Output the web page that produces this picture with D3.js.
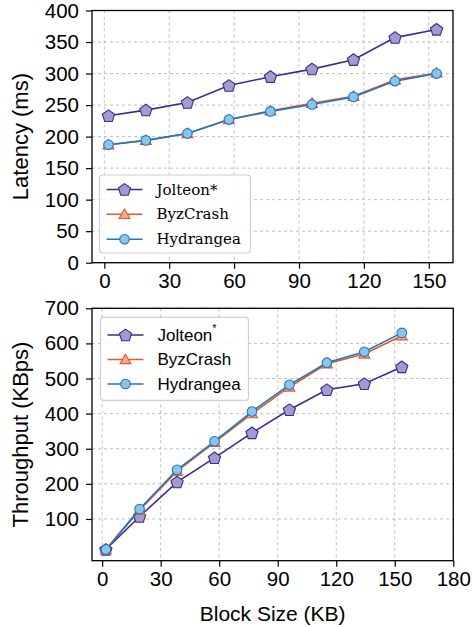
<!DOCTYPE html>
<html><head><meta charset="utf-8">
<script src="https://cdn.jsdelivr.net/npm/d3@7"></script>
<style>body{margin:0;background:#fff}svg{display:block}</style>
</head><body>
<svg id="c" width="474" height="627"></svg>
<script>
const blockSizes = [1.92, 19.2, 38.4, 57.6, 76.8, 96, 115.2, 134.4, 153.6];
const latJolteon = [233, 242, 254, 281, 295, 307, 322, 357, 370];
const latByzCrash = [187, 194, 205, 227, 241, 253, 264, 290, 301];
const latHydrangea = [187, 194, 205, 227, 240, 251, 263, 288, 300];
const thrJolteon = [13, 107, 205, 274, 345, 411, 468, 485, 533];
const thrByzCrash = [12, 125, 236, 318, 400, 476, 542, 570, 622];
const thrHydrangea = [13, 128, 240, 321, 406, 482, 545, 576, 630];
const topXTicks = [0, 30, 60, 90, 120, 150];
const topYTicks = [0, 50, 100, 150, 200, 250, 300, 350, 400];
const botXTicks = [0, 30, 60, 90, 120, 150, 180];
const botYTicks = [100, 200, 300, 400, 500, 600, 700];
const seriesNames = ["Jolteon", "ByzCrash", "Hydrangea"];

const styles = {
  Jolteon: {line: "#3d2b8c", fill: "#a39bcf", shape: "pentagon"},
  ByzCrash: {line: "#e55a2b", fill: "#f5a98a", shape: "triangle"},
  Hydrangea: {line: "#1c78c0", fill: "#8fc4ea", shape: "circle"}
};

const svg = d3.select("#c");
const SANS = "'Liberation Sans', Arial, Helvetica, sans-serif";

function markerPath(shape) {
  if (shape === "circle") return d3.symbol(d3.symbolCircle, Math.PI * 4.8 * 4.8)();
  if (shape === "triangle") {
    const r = 6.3;
    const pts = [0, 1, 2].map(i => { const a = -Math.PI / 2 + i * 2 * Math.PI / 3; return [r * Math.cos(a), r * Math.sin(a) + 1]; });
    return "M" + pts.map(p => p.join(",")).join("L") + "Z";
  }
  const r = 6.4;
  const pts = [0, 1, 2, 3, 4].map(i => { const a = -Math.PI / 2 + i * 2 * Math.PI / 5; return [r * Math.cos(a), r * Math.sin(a) + 0.5]; });
  return "M" + pts.map(p => p.join(",")).join("L") + "Z";
}

function panel(cfg) {
  const {x0, x1, y0, y1, xDomain, yDomain, xTicks, yTicks, data, ylabel, xlabel, legend} = cfg;
  const x = d3.scaleLinear().domain(xDomain).range([x0, x1]);
  const y = d3.scaleLinear().domain(yDomain).range([y1, y0]);
  const g = svg.append("g");
  g.append("g").selectAll("line").data(xTicks).join("line")
    .attr("x1", d => x(d)).attr("x2", d => x(d)).attr("y1", y0).attr("y2", y1)
    .attr("stroke", "#b0b0b0").attr("stroke-width", 0.8).attr("stroke-dasharray", "3,3");
  g.append("g").selectAll("line").data(yTicks).join("line")
    .attr("x1", x0).attr("x2", x1).attr("y1", d => y(d)).attr("y2", d => y(d))
    .attr("stroke", "#b0b0b0").attr("stroke-width", 0.8).attr("stroke-dasharray", "3,3");
  const ax = g.append("g").attr("transform", `translate(0,${y1})`)
    .call(d3.axisBottom(x).tickValues(xTicks).tickSize(6).tickPadding(5).tickFormat(d3.format("d")));
  const ay = g.append("g").attr("transform", `translate(${x0},0)`)
    .call(d3.axisLeft(y).tickValues(yTicks).tickSize(6).tickPadding(7).tickFormat(d3.format("d")));
  [ax, ay].forEach(a => {
    a.select(".domain").remove();
    a.selectAll(".tick line").attr("stroke", "#000").attr("stroke-width", 1.2);
    a.selectAll(".tick text").attr("font-family", SANS).attr("font-size", 20.5).attr("fill", "#000");
  });
  const line = d3.line().x((d, i) => x(blockSizes[i])).y(d => y(d));
  data.forEach((vals, k) => {
    const st = styles[seriesNames[k]];
    g.append("path").attr("d", line(vals)).attr("fill", "none")
      .attr("stroke", st.line).attr("stroke-width", 1.6);
    g.append("g").selectAll("path").data(vals).join("path")
      .attr("transform", (d, i) => `translate(${x(blockSizes[i])},${y(d)})`)
      .attr("d", markerPath(st.shape)).attr("fill", st.fill).attr("stroke", st.line).attr("stroke-width", 1.1);
  });
  g.append("rect").attr("x", x0).attr("y", y0).attr("width", x1 - x0).attr("height", y1 - y0)
    .attr("fill", "none").attr("stroke", "#000").attr("stroke-width", 1.3);
  g.append("text").attr("transform", `translate(20,${(y0 + y1) / 2}) rotate(-90)`)
    .attr("text-anchor", "middle").attr("dominant-baseline", "central")
    .attr("font-family", SANS).attr("font-size", 22).text(ylabel);
  if (xlabel) g.append("text").attr("x", (x0 + x1) / 2).attr("y", 613)
    .attr("text-anchor", "middle").attr("dominant-baseline", "central")
    .attr("font-family", SANS).attr("font-size", 21).text(xlabel);
  const L = legend;
  const lg = g.append("g");
  lg.append("rect").attr("x", L.x).attr("y", L.y).attr("width", L.w).attr("height", L.h)
    .attr("rx", 3).attr("fill", "#fff").attr("fill-opacity", 0.85).attr("stroke", "#d0d0d0").attr("stroke-width", 1.2);
  seriesNames.forEach((name, k) => {
    const st = styles[name];
    const ry = L.rows[k];
    lg.append("line").attr("x1", L.x + 7).attr("x2", L.x + 43).attr("y1", ry).attr("y2", ry)
      .attr("stroke", st.line).attr("stroke-width", 1.6);
    lg.append("path").attr("transform", `translate(${L.x + 25},${ry})`).attr("d", markerPath(st.shape))
      .attr("fill", st.fill).attr("stroke", st.line).attr("stroke-width", 1.1);
    const t = lg.append("text").attr("x", L.x + 57).attr("y", ry).attr("dominant-baseline", "central")
      .attr("font-family", L.font).attr("font-size", L.size).attr("fill", "#000");
    if (name === "Jolteon") {
      if (L.serif) t.text("Jolteon*");
      else { t.text("Jolteon"); t.append("tspan").attr("dy", -7).attr("font-size", 11).text("*"); }
    } else t.text(name);
  });
}

panel({
  x0: 92, x1: 453, y0: 10.5, y1: 262.7,
  xDomain: [-5.7, 161.2], yDomain: [0, 400],
  xTicks: topXTicks, yTicks: topYTicks,
  data: [latJolteon, latByzCrash, latHydrangea],
  ylabel: "Latency (ms)",
  legend: {x: 99.5, y: 175, w: 151, h: 78, rows: [189.5, 214.3, 239.3], font: "'DejaVu Serif', serif", size: 15, serif: true}
});
panel({
  x0: 92, x1: 453.3, y0: 308.3, y1: 560.7,
  xDomain: [-5.2, 180], yDomain: [-18.9, 700],
  xTicks: botXTicks, yTicks: botYTicks,
  data: [thrJolteon, thrByzCrash, thrHydrangea],
  ylabel: "Throughput (KBps)", xlabel: "Block Size (KB)",
  legend: {x: 100.5, y: 317.3, w: 148, h: 83, rows: [335, 359.5, 384], font: SANS, size: 17, serif: false}
});
</script>
</body></html>
